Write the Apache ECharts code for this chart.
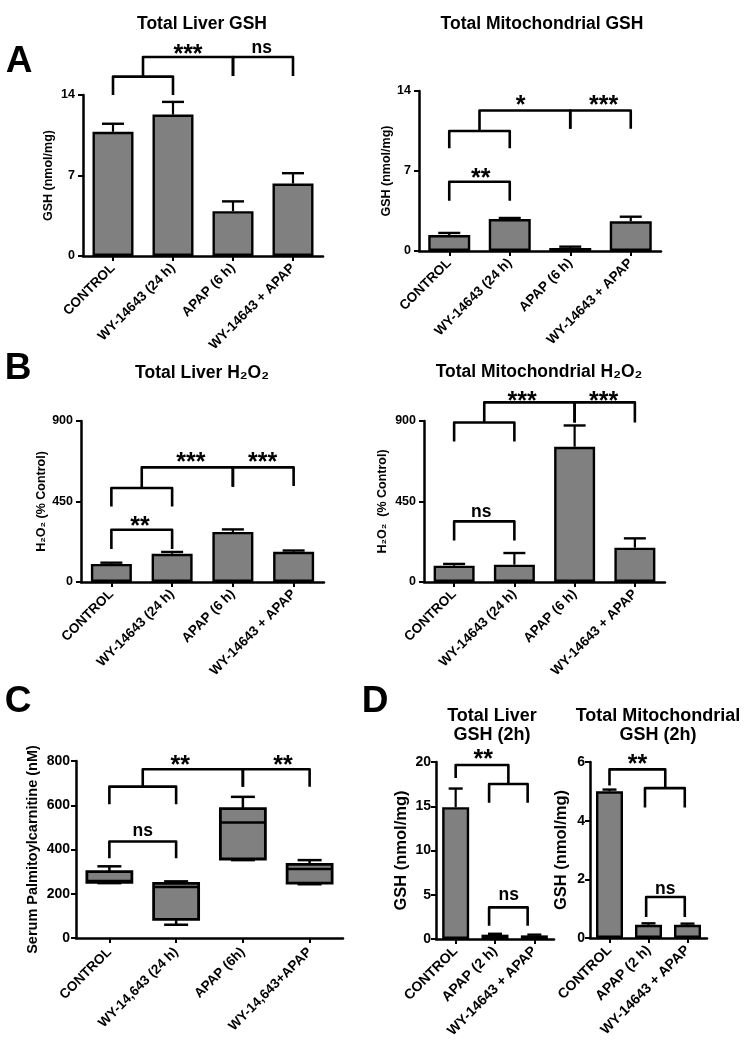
<!DOCTYPE html>
<html><head><meta charset="utf-8">
<script src="https://cdn.jsdelivr.net/npm/echarts@6/dist/echarts.min.js"></script>
<style>html,body{margin:0;padding:0;background:#fff}#c{width:748px;height:1047px}</style>
</head><body><div id="c"></div>
<script>
const FONT = '"Liberation Sans", Arial, Helvetica, sans-serif';
const GRAY = '#808080';

// ---------- categories ----------
const catsAB = ['CONTROL', 'WY-14643 (24 h)', 'APAP (6 h)', 'WY-14643 + APAP'];
const catsC = ['CONTROL', 'WY-14,643 (24 h)', 'APAP (6h)', 'WY-14,643+APAP'];
const catsD = ['CONTROL', 'APAP (2 h)', 'WY-14643 + APAP'];

// ---------- values (mean) and SEM ----------
const liverGSH = [10.8, 12.3, 3.9, 6.3];
const liverGSHErr = [0.7, 1.1, 0.85, 0.9];
const mitoGSH = [1.4, 2.8, 0.26, 2.6];
const mitoGSHErr = [0.18, 0.09, 0.12, 0.4];
const liverH2O2 = [101, 158, 280, 169];
const liverH2O2Err = [7, 10, 14, 7];
const mitoH2O2 = [91, 97, 756, 192];
const mitoH2O2Err = [10, 65, 119, 52];
// box plot: [min, Q1, median, Q3, max]
const palmitoyl = [
  [248, 252, 258, 300, 324],
  [60, 84, 231, 247, 256],
  [352, 357, 522, 585, 638],
  [243, 248, 312, 333, 352]
];
const liverGSH2h = [14.9, 0.49, 0.41];
const liverGSH2hErr = [2.1, 0.1, 0.08];
const mitoGSH2h = [5.0, 0.45, 0.45];
const mitoGSH2hErr = [0.06, 0.05, 0.04];

// ---------- y tick settings ----------
const ticksAL = [0, 7, 14];
const ticksAR = [0, 7, 14];
const ticksB = [0, 450, 900];
const ticksC = [0, 200, 400, 600, 800];
const ticksDL = [0, 5, 10, 15, 20];
const ticksDR = [0, 2, 4, 6];

// ---------- significance brackets: [x1, x2, yLevel, leftLegEnd, rightLegEnd] (category index, data units) ----------
const bracketsAL = [[0, 1, 15.6, 14.0, 14.0], [0.5, 2, 17.3, 15.6, 15.65], [2, 3, 17.3, 15.65, 15.65]];
const starsAL = [[1.25, 18.0, '***'], [2.48, 18.1, 'ns']];
const bracketsAR = [[0, 1, 6.06, 4.4, 4.4], [0, 1, 10.5, 9.0, 9.0], [0.5, 2, 12.3, 10.5, 10.7], [2, 3, 12.3, 10.7, 10.7]];
const starsAR = [[0.52, 6.8, '**'], [1.18, 13.2, '*'], [2.55, 13.2, '***']];
const bracketsBL = [[0, 1, 292, 184.5, 184.5], [0, 1, 525.5, 422.6, 422.6], [0.5, 2, 640.6, 525.5, 532.7], [2, 3, 640.6, 532.7, 536]];
const starsBL = [[0.47, 339, '**'], [1.31, 695, '***'], [2.49, 695, '***']];
const bracketsBR = [[0, 1, 338.8, 232.5, 232.5], [0, 1, 892, 786, 786], [0.5, 2, 1004, 892, 892], [2, 3, 1004, 892, 892]];
const starsBR = [[0.45, 389, 'ns'], [1.13, 1037, '***'], [2.48, 1037, '***']];
const bracketsC = [[0, 1, 436, 361, 361], [0, 1, 684, 605, 605], [0.5, 2, 762.5, 684, 684], [2, 3, 762.5, 684, 684]];
const starsC = [[0.5, 484, 'ns'], [1.06, 805, '**'], [2.6, 805, '**']];
const bracketsDL = [[0, 1.34, 19.66, 18.2, 17.52], [0.85, 1.83, 17.52, 15.4, 15.4], [0.85, 1.83, 3.57, 1.5, 1.5]];
const starsDL = [[0.7, 20.9, '**'], [1.35, 4.9, 'ns']];
const bracketsDR = [[0, 1.43, 5.75, 5.2, 5.11], [0.91, 1.93, 5.11, 4.45, 4.45], [0.94, 1.93, 1.40, 0.72, 0.72]];
const starsDR = [[0.72, 6.08, '**'], [1.43, 1.67, 'ns']];

// ---------- panel layout / style ----------
const panels = [
  { cats: catsAB, values: liverGSH, errs: liverGSHErr, ticks: ticksAL, yName: 'GSH (nmol/mg)',
    brackets: bracketsAL, stars: starsAL, grid: {left: 83, top: 95, width: 240, height: 161},
    barW: 41, capW: 22, tickFont: 12.5, catFont: 13.5, nameFont: 12.5, nameGap: 28, labelMargin: 8, catMargin: 10,
    title: 'Total Liver GSH', titleX: 202, titleY: 15, titleFont: 17.5 },
  { cats: catsAB, values: mitoGSH, errs: mitoGSHErr, ticks: ticksAR, yName: 'GSH (nmol/mg)',
    brackets: bracketsAR, stars: starsAR, grid: {left: 419, top: 91, width: 242, height: 160},
    barW: 42, capW: 22, tickFont: 12.5, catFont: 13.5, nameFont: 12.5, nameGap: 25, labelMargin: 8, catMargin: 10,
    title: 'Total Mitochondrial GSH', titleX: 542, titleY: 15, titleFont: 17.5 },
  { cats: catsAB, values: liverH2O2, errs: liverH2O2Err, ticks: ticksB, yName: 'H₂O₂ (% Control)',
    brackets: bracketsBL, stars: starsBL, grid: {left: 81, top: 421, width: 243, height: 161},
    barW: 41, capW: 22, tickFont: 12.5, catFont: 13.5, nameFont: 12.5, nameGap: 30, labelMargin: 8, catMargin: 10,
    title: 'Total Liver H₂O₂', titleX: 202, titleY: 364, titleFont: 17.5 },
  { cats: catsAB, values: mitoH2O2, errs: mitoH2O2Err, ticks: ticksB, yName: 'H₂O₂  (% Control)',
    brackets: bracketsBR, stars: starsBR, grid: {left: 424, top: 421, width: 241, height: 161},
    barW: 41, capW: 22, tickFont: 12.5, catFont: 13.5, nameFont: 12.5, nameGap: 35, labelMargin: 8, catMargin: 10,
    title: 'Total Mitochondrial H₂O₂', titleX: 539, titleY: 363, titleFont: 17.5 },
  { cats: catsC, boxes: palmitoyl, ticks: ticksC, yName: 'Serum Palmitoylcarnitine (nM)',
    brackets: bracketsC, stars: starsC, grid: {left: 76, top: 761, width: 267, height: 177},
    boxW: 45, capW: 24, tickFont: 14, catFont: 13.5, nameFont: 14.5, nameGap: 36, labelMargin: 6, catMargin: 12 },
  { cats: catsD, values: liverGSH2h, errs: liverGSH2hErr, ticks: ticksDL, yName: 'GSH (nmol/mg)',
    brackets: bracketsDL, stars: starsDL, grid: {left: 436, top: 762, width: 118, height: 177},
    barW: 27, capW: 14, tickFont: 14, catFont: 14, nameFont: 16.5, nameGap: 26, labelMargin: 5, catMargin: 10,
    title: 'Total Liver\nGSH (2h)', titleX: 492, titleY: 706, titleFont: 18 },
  { cats: catsD, values: mitoGSH2h, errs: mitoGSH2hErr, ticks: ticksDR, yName: 'GSH (nmol/mg)',
    brackets: bracketsDR, stars: starsDR, grid: {left: 590, top: 762, width: 117, height: 176},
    barW: 27, capW: 14, tickFont: 14, catFont: 14, nameFont: 16.5, nameGap: 20, labelMargin: 5, catMargin: 10,
    title: 'Total Mitochondrial\nGSH (2h)', titleX: 658, titleY: 706, titleFont: 18 }
];

const panelLetters = [['A', 19, 62], ['B', 18, 369], ['C', 18, 702], ['D', 375, 702]];

function xPix(api, xi) {
  const a = api.coord([0, 0])[0], b = api.coord([1, 0])[0];
  return a + (b - a) * xi;
}
function yPix(api, v) { return api.coord([0, v])[1]; }

const option = {
  animation: false, backgroundColor: '#fff',
  textStyle: {fontFamily: FONT},
  grid: [], xAxis: [], yAxis: [], series: [], title: [],
  graphic: panelLetters.map(([t, x, y]) => ({
    type: 'text', x: x, y: y,
    style: {text: t, fontSize: 37, fontWeight: 'bold', fontFamily: FONT, fill: '#000', align: 'center', verticalAlign: 'middle'}
  }))
};

panels.forEach((p, i) => {
  option.grid.push(Object.assign({containLabel: false}, p.grid));
  const t = p.ticks;
  option.xAxis.push({
    type: 'category', gridIndex: i, data: p.cats,
    axisLine: {show: true, lineStyle: {color: '#000', width: 2.5}},
    axisTick: {show: true, alignWithLabel: true, length: 5, lineStyle: {color: '#000', width: 2}},
    axisLabel: {rotate: 45, interval: 0, color: '#000', fontWeight: 'bold', fontSize: p.catFont, fontFamily: FONT, margin: p.catMargin},
    splitLine: {show: false}
  });
  option.yAxis.push({
    type: 'value', gridIndex: i, min: t[0], max: t[t.length - 1], interval: t[1] - t[0],
    name: p.yName, nameLocation: 'middle', nameGap: p.nameGap, nameRotate: 90,
    nameTextStyle: {color: '#000', fontWeight: 'bold', fontSize: p.nameFont, fontFamily: FONT},
    axisLine: {show: true, lineStyle: {color: '#000', width: 2.5}},
    axisTick: {show: true, length: 5, lineStyle: {color: '#000', width: 2}},
    axisLabel: {color: '#000', fontWeight: 'bold', fontSize: p.tickFont, fontFamily: FONT, margin: p.labelMargin},
    splitLine: {show: false}
  });
  if (p.title) {
    option.title.push({
      text: p.title, left: p.titleX, top: p.titleY, textAlign: 'center', padding: 0,
      textStyle: {color: '#000', fontWeight: 'bold', fontSize: p.titleFont, fontFamily: FONT, lineHeight: p.titleFont + 1.5}
    });
  }
  if (p.values) {
    option.series.push({
      type: 'bar', xAxisIndex: i, yAxisIndex: i, data: p.values, barWidth: p.barW, silent: true, z: 2,
      itemStyle: {color: GRAY, borderColor: '#000', borderWidth: 2.4}
    });
    const capW = p.capW;
    option.series.push({
      type: 'custom', xAxisIndex: i, yAxisIndex: i, z: 3, silent: true, clip: false,
      data: p.values.map((v, k) => [k, v, p.errs[k]]),
      renderItem: function (params, api) {
        const x = api.value(0), v = api.value(1), e = api.value(2);
        const p0 = api.coord([x, v]), p1 = api.coord([x, v + e]);
        return {type: 'group', children: [
          {type: 'line', shape: {x1: p0[0], y1: p0[1], x2: p1[0], y2: p1[1]}, style: {stroke: '#000', lineWidth: 2.2}},
          {type: 'line', shape: {x1: p1[0] - capW / 2, y1: p1[1], x2: p1[0] + capW / 2, y2: p1[1]}, style: {stroke: '#000', lineWidth: 2.4}}
        ]};
      }
    });
  }
  if (p.boxes) {
    const boxW = p.boxW, capW = p.capW;
    option.series.push({
      type: 'custom', xAxisIndex: i, yAxisIndex: i, z: 3, silent: true, clip: false,
      data: p.boxes.map((b, k) => [k].concat(b)),
      renderItem: function (params, api) {
        const k = api.value(0);
        const pMin = api.coord([k, api.value(1)]), pQ1 = api.coord([k, api.value(2)]),
              pMed = api.coord([k, api.value(3)]), pQ3 = api.coord([k, api.value(4)]), pMax = api.coord([k, api.value(5)]);
        const cx = pMed[0];
        const ls = {stroke: '#000', lineWidth: 2.5};
        return {type: 'group', children: [
          {type: 'line', shape: {x1: cx, y1: pQ3[1], x2: cx, y2: pMax[1]}, style: ls},
          {type: 'line', shape: {x1: cx, y1: pQ1[1], x2: cx, y2: pMin[1]}, style: ls},
          {type: 'line', shape: {x1: cx - capW / 2, y1: pMax[1], x2: cx + capW / 2, y2: pMax[1]}, style: ls},
          {type: 'line', shape: {x1: cx - capW / 2, y1: pMin[1], x2: cx + capW / 2, y2: pMin[1]}, style: ls},
          {type: 'rect', shape: {x: cx - boxW / 2, y: pQ3[1], width: boxW, height: pQ1[1] - pQ3[1]},
           style: {fill: GRAY, stroke: '#000', lineWidth: 2.8}},
          {type: 'line', shape: {x1: cx - boxW / 2, y1: pMed[1], x2: cx + boxW / 2, y2: pMed[1]}, style: ls}
        ]};
      }
    });
  }
  // brackets
  const br = p.brackets;
  option.series.push({
    type: 'custom', xAxisIndex: i, yAxisIndex: i, z: 4, silent: true, clip: false,
    data: br.map((b, k) => [k, b[2]]),
    renderItem: function (params, api) {
      const b = br[params.dataIndex];
      const x1 = xPix(api, b[0]), x2 = xPix(api, b[1]);
      const y = yPix(api, b[2]), d1 = yPix(api, b[3]), d2 = yPix(api, b[4]);
      return {type: 'polyline', shape: {points: [[x1, d1], [x1, y], [x2, y], [x2, d2]]},
              style: {stroke: '#000', lineWidth: 2.6, fill: null, lineJoin: 'round', lineCap: 'butt'}};
    }
  });
  const st = p.stars;
  option.series.push({
    type: 'custom', xAxisIndex: i, yAxisIndex: i, z: 5, silent: true, clip: false,
    data: st.map((s, k) => [k, s[1]]),
    renderItem: function (params, api) {
      const s = st[params.dataIndex];
      const isStar = s[2].indexOf('*') >= 0;
      const fs = isStar ? 25 : 17.5;
      const x = xPix(api, s[0]);
      const y = yPix(api, s[1]) + (isStar ? fs * 0.23 : 0);
      return {type: 'text', x: x, y: y,
              style: {text: s[2], fontSize: fs, fontWeight: 'bold', fontFamily: FONT, fill: '#000', align: 'center', verticalAlign: 'middle'}};
    }
  });
});

const chart = echarts.init(document.getElementById('c'), null, {renderer: 'canvas'});
chart.setOption(option);
</script></body></html>
